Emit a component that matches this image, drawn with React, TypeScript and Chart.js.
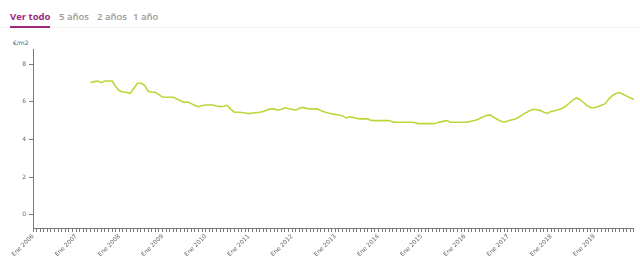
import React, { useEffect, useRef } from "react";
import { Chart, registerables } from "chart.js";

Chart.register(...registerables);

const monthNames = ["Ene", "Feb", "Mar", "Abr", "May", "Jun", "Jul", "Ago", "Sep", "Oct", "Nov", "Dic"];
const years = [2006, 2007, 2008, 2009, 2010, 2011, 2012, 2013, 2014, 2015, 2016, 2017, 2018, 2019];
const categories: string[] = [];
years.forEach((y) => monthNames.forEach((m) => categories.push(`${m} ${y}`)));

const firstMonth = "May 2007";
const priceValues = [
  7.01, 7.07, 7.10, 7.01, 7.10, 7.10, 7.10, 6.80, 6.58, 6.52, 6.50, 6.45, 6.70, 6.98, 6.98, 6.88,
  6.56, 6.52, 6.50, 6.38, 6.25, 6.24, 6.24, 6.24, 6.15, 6.05, 5.97, 5.99, 5.90, 5.80, 5.74, 5.80,
  5.83, 5.83, 5.83, 5.77, 5.74, 5.76, 5.81, 5.60, 5.45, 5.44, 5.43, 5.40, 5.37, 5.40, 5.42, 5.44,
  5.48, 5.56, 5.62, 5.62, 5.55, 5.60, 5.68, 5.63, 5.60, 5.55, 5.65, 5.70, 5.65, 5.62, 5.62, 5.62,
  5.53, 5.46, 5.40, 5.36, 5.33, 5.30, 5.25, 5.14, 5.20, 5.16, 5.12, 5.09, 5.09, 5.09, 5.01, 5.00,
  5.00, 5.00, 5.00, 5.00, 4.93, 4.91, 4.91, 4.91, 4.91, 4.91, 4.90, 4.84, 4.84, 4.84, 4.84, 4.84,
  4.86, 4.92, 4.96, 5.00, 4.91, 4.91, 4.91, 4.91, 4.91, 4.93, 4.98, 5.02, 5.10, 5.19, 5.27, 5.30,
  5.18, 5.07, 4.96, 4.93, 4.98, 5.04, 5.08, 5.18, 5.30, 5.42, 5.52, 5.60, 5.58, 5.53, 5.44, 5.38,
  5.49, 5.52, 5.58, 5.64, 5.76, 5.92, 6.09, 6.20, 6.12, 5.96, 5.80, 5.68, 5.68, 5.74, 5.82, 5.90,
  6.14, 6.32, 6.44, 6.49, 6.40, 6.30, 6.20, 6.13,
];
const yTicks = [0, 2, 4, 6, 8];
const tabs = ["Ver todo", "5 años", "2 años", "1 año"];
const unitLabel = "€/m2";

export default function App() {
  const ref = useRef<HTMLCanvasElement>(null);
  useEffect(() => {
    document.body.style.margin = "0";
    const start = categories.indexOf(firstMonth);
    const data: (number | null)[] = categories.map((_, i) =>
      i >= start && i - start < priceValues.length ? priceValues[i - start] : null
    );
    const chart = new Chart(ref.current!, {
      type: "line",
      data: {
        labels: categories,
        datasets: [
          {
            data,
            borderColor: "#bdd63a",
            borderWidth: 1.6,
            pointRadius: 0,
            tension: 0,
            fill: false,
            spanGaps: false,
          },
        ],
      },
      options: {
        animation: false,
        responsive: false,
        maintainAspectRatio: false,
        layout: { padding: { top: 19, right: 5, left: 0, bottom: 0 } },
        plugins: { legend: { display: false }, tooltip: { enabled: false } },
        scales: {
          x: {
            type: "category",
            offset: false,
            grid: { drawOnChartArea: false, drawTicks: true, tickLength: 4, color: "#7a7a7a" },
            border: { display: true, color: "#7a7a7a" },
            ticks: {
              autoSkip: false,
              maxRotation: 45,
              minRotation: 45,
              padding: 1,
              color: "#666",
              font: { size: 6, family: "DejaVu Sans" },
              callback: (v: any) => {
                const l = categories[v as number];
                return l.startsWith("Ene") ? l : "";
              },
            },
            afterFit: (s: any) => {
              s.height = 35;
            },
          },
          y: {
            min: -0.7,
            max: 8.8,
            grid: { drawOnChartArea: false, drawTicks: true, tickLength: 4, color: "#7a7a7a" },
            border: { display: true, color: "#7a7a7a" },
            afterBuildTicks: (s: any) => {
              s.ticks = yTicks.map((v) => ({ value: v }));
            },
            ticks: { color: "#666", padding: 3, font: { size: 6, family: "DejaVu Sans" } },
            afterFit: (s: any) => {
              s.width = 33;
            },
          },
        },
      },
    });
    return () => chart.destroy();
  }, []);

  return (
    <div style={{ position: "absolute", left: 0, top: 0, width: 640, height: 263, background: "#fff", fontFamily: "'Open Sans', sans-serif" }}>
      <div style={{ position: "absolute", left: 0, top: 27, width: 640, height: 1, background: "#f2f2f2" }} />
      {tabs.map((t, i) => (
        <span
          key={t}
          style={{
            position: "absolute",
            top: 10,
            left: [10, 59, 97, 133][i],
            fontSize: 9.5,
            fontWeight: i === 0 ? 700 : 600,
            color: i === 0 ? "#9c2a7f" : "#9a9a9a",
            whiteSpace: "nowrap",
            lineHeight: "14px",
          }}
        >
          {t}
        </span>
      ))}
      <div style={{ position: "absolute", left: 10, top: 26, width: 40, height: 2, background: "#9c2a7f" }} />
      <span style={{ position: "absolute", left: 13, top: 39, fontSize: 6, color: "#555", fontFamily: "'DejaVu Sans', sans-serif" }}>{unitLabel}</span>
      <canvas ref={ref} width={640} height={233} style={{ position: "absolute", left: 0, top: 30 }} />
    </div>
  );
}
